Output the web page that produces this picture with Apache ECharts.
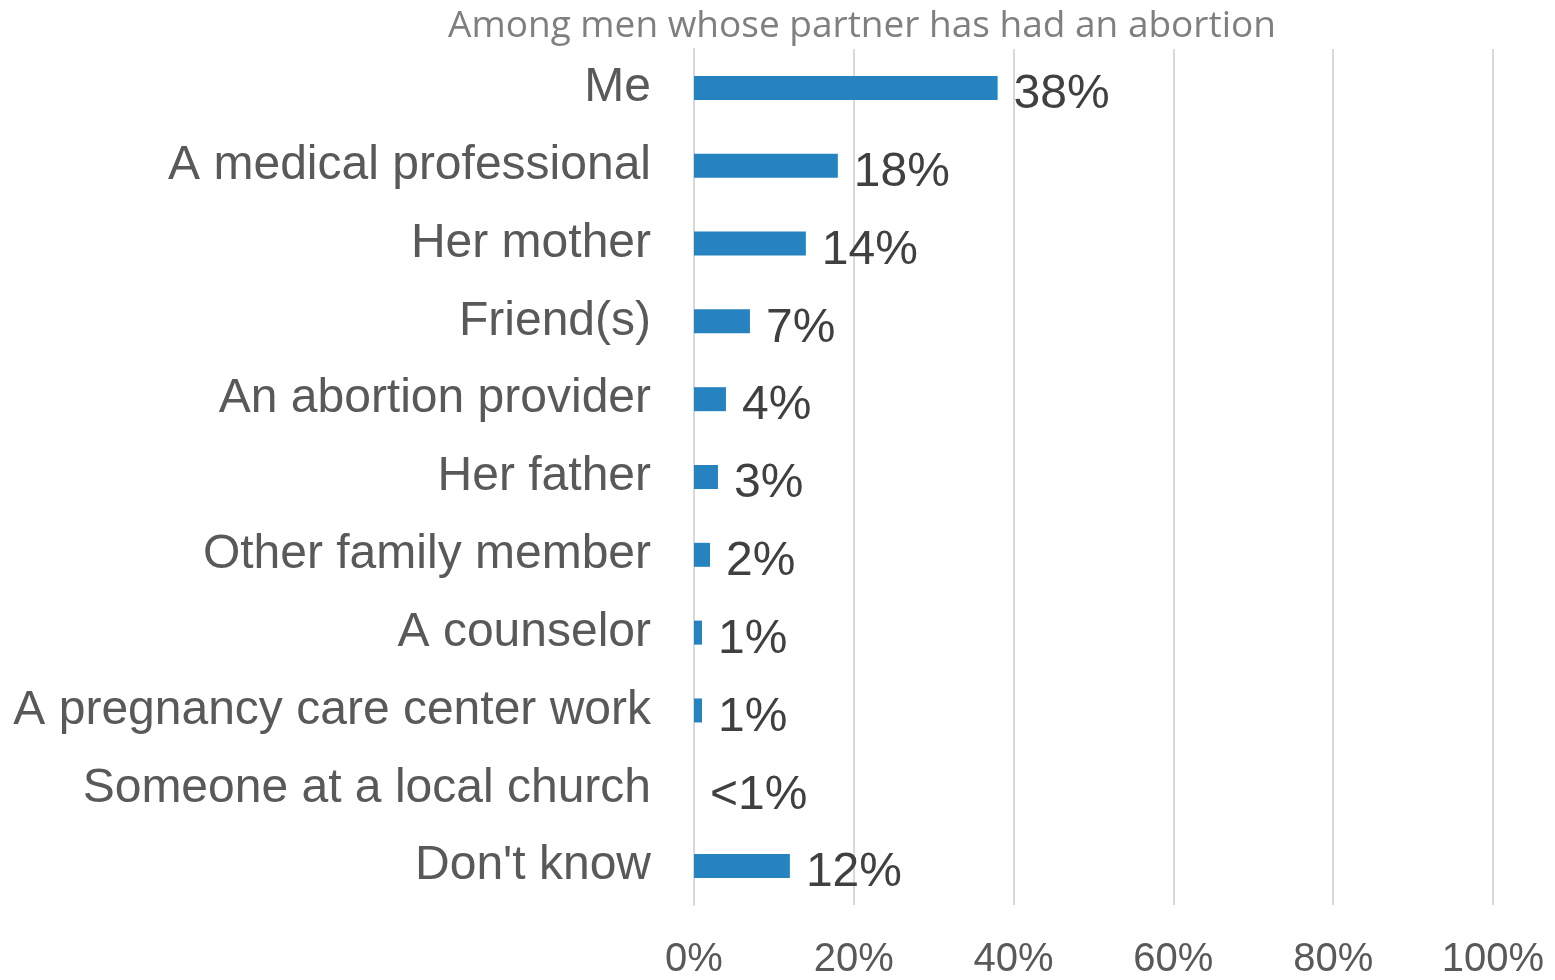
<!DOCTYPE html>
<html><head><meta charset="utf-8">
<script src="https://cdn.jsdelivr.net/npm/echarts@6/dist/echarts.min.js"></script>
<style>html,body{margin:0;padding:0;background:#fff}#c{width:1555px;height:980px}</style>
</head><body><div id="c"></div>
<script>
const categories = ["Me","A medical professional","Her mother","Friend(s)","An abortion provider","Her father","Other family member","A counselor","A pregnancy care center work","Someone at a local church","Don't know"];
const values = [38,18,14,7,4,3,2,1,1,0,12];
const valueLabels = ["38%","18%","14%","7%","4%","3%","2%","1%","1%","<1%","12%"];
const xTicks = [0,20,40,60,80,100];

const chart = echarts.init(document.getElementById('c'));
chart.setOption({
  animation:false,
  title:{text:"Among men whose partner has had an abortion",left:857,top:3,textAlign:'center',
    textStyle:{fontFamily:"Open Sans",fontWeight:'normal',fontSize:37,color:'#7f7f7f'}},
  grid:{left:694,top:49,width:799,height:862,containLabel:false},
  xAxis:{type:'value',min:xTicks[0],max:xTicks[xTicks.length-1],interval:20,
    axisLine:{show:false},axisTick:{show:false},
    splitLine:{show:true,lineStyle:{color:'#d9d9d9',width:2}},
    axisLabel:{formatter:v=>v+'%',fontFamily:"Liberation Sans",fontSize:40,color:'#595959',margin:35}},
  yAxis:{type:'category',data:categories,inverse:true,
    axisLine:{show:true,lineStyle:{color:'#d9d9d9',width:2}},axisTick:{show:false},
    axisLabel:{fontFamily:"Liberation Sans",fontSize:48,color:'#595959',margin:43}},
  series:[{type:'bar',data:values,barWidth:24,itemStyle:{color:'#2683c0'},
    label:{show:true,position:'right',distance:16,offset:[0,7],fontFamily:"Liberation Sans",fontSize:48,color:'#404040',
      formatter:p=>valueLabels[p.dataIndex]}}]
});
</script></body></html>
